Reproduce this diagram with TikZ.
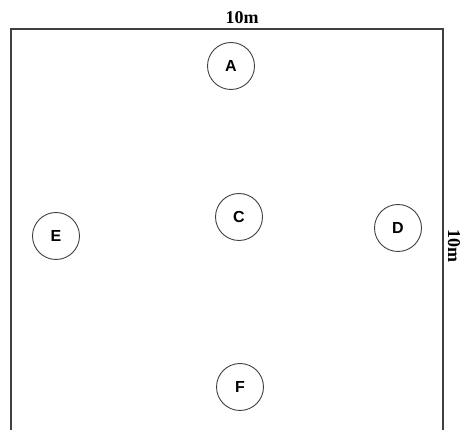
\documentclass[tikz,border=0pt]{standalone}
\usepackage{fontspec}
\setmainfont{Liberation Serif}
\setsansfont{Liberation Sans}
\usetikzlibrary{positioning}

\begin{document}
\begin{tikzpicture}[x=1pt,y=-1pt]
\useasboundingbox (0,0) rectangle (461,430);
% open room outline
\draw[black!75,line width=1.1pt] (11,430) -- (11,29) -- (443,29) -- (443,430);
\node[font=\fontsize{18}{18}\selectfont\bfseries] (top) at (242,18) {10m};
\node[font=\fontsize{18}{18}\selectfont\bfseries,rotate=-90] (side) at (454,246) {10m};

\begin{scope}[every node/.style={circle,draw=black!75,line width=0.9pt,minimum size=47pt,inner sep=0pt,font=\sffamily\bfseries\fontsize{16}{16}\selectfont}]
    \node (A) at (231,66) {A};
    \node (C) at (239,217) {C};
    \node (D) at (398,228) {D};
    \node (E) at (56,236) {E};
    \node (F) at (240,387) {F};
\end{scope}
\end{tikzpicture}
\end{document}
